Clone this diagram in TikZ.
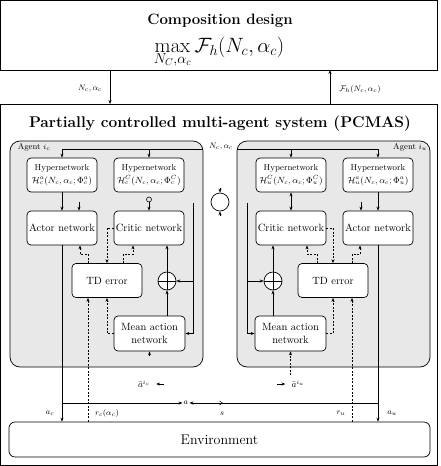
\documentclass[tikz,border=0pt]{standalone}
\usetikzlibrary{arrows.meta}
\begin{document}
\begin{tikzpicture}[x=1pt,y=-1pt,
  outer/.style={draw, line width=0.8pt, inner sep=0pt, outer sep=0pt},
  agentbox/.style={draw, fill=gray!18, rounded corners=10pt, line width=0.7pt},
  netbox/.style={draw, fill=white, rounded corners=4pt, minimum width=70pt, minimum height=34pt, align=center, inner sep=1pt, line width=0.7pt, font=\fontsize{10.5}{12.5}\selectfont},
  hyperbox/.style={netbox, font=\fontsize{8.6}{13}\selectfont},
  plus/.style={draw, circle, fill=white, minimum size=18pt, inner sep=0pt, line width=0.7pt, path picture={\draw[line width=0.6pt] (path picture bounding box.west) -- (path picture bounding box.east) (path picture bounding box.north) -- (path picture bounding box.south);}},
  arr/.style={-{Stealth[length=4pt,width=3pt]}, line width=0.6pt},
  darr/.style={arr, dash pattern=on 2pt off 1.5pt},
  lab/.style={font=\fontsize{8.5}{10}\selectfont, inner sep=1pt}
]
\useasboundingbox (0,0) rectangle (440,466);

% outer boxes
\node[outer, minimum width=437pt, minimum height=69.5pt, anchor=north west] (comp) at (0.5,0.5) {};
\node[font=\bfseries\fontsize{15}{18}\selectfont] (comptitle) at (220,21) {Composition design};
\node[font=\fontsize{20}{22}\selectfont] (compmath) at (219,52) {$\max\limits_{N_C,\alpha_c} \mathcal{F}_h(N_c,\alpha_c)$};
\node[outer, minimum width=437pt, minimum height=361pt, anchor=north west] (pc) at (0.5,104) {};
\node[font=\bfseries\fontsize{15.5}{18}\selectfont] (pctitle) at (220,124) {Partially controlled multi-agent system (PCMAS)};

\coordinate (dn) at (110,0);
\coordinate (up) at (330,0);
\draw[arr] (dn |- comp.south) -- (dn |- pc.north);
\draw[arr] (up |- pc.north) -- (up |- comp.south);
\node[lab] (lN) at (90,89) {$N_c,\alpha_c$};
\node[lab] (lF) at (360,89) {$\mathcal{F}_h(N_c,\alpha_c)$};

% agent boxes
\draw[agentbox] (10,141) rectangle (203,367);
\draw[agentbox] (237,141) rectangle (430,367);
\node[lab] (agc) at (34,147) {Agent $i_c$};
\node[lab] (agu) at (410,147) {Agent $i_u$};
\node[lab] (Nmid) at (221,147) {$N_c,\alpha_c$};

% left agent nodes
\node[hyperbox] (hac) at (62,175) {Hypernetwork\\$\mathcal{H}^a_c(N_c,\alpha_c;\Phi^a_c)$};
\node[hyperbox] (hcc) at (149,175) {Hypernetwork\\$\mathcal{H}^C_c(N_c,\alpha_c;\Phi^C_c)$};
\node[netbox] (actc) at (62,228) {Actor network};
\node[netbox] (critc) at (149,228) {Critic network};
\node[netbox] (tdc) at (107,280.5) {TD error};
\node[plus] (plusc) at (167,281) {};
\node[netbox, minimum width=71pt, minimum height=35pt] (meanc) at (149.5,333.5) {Mean action\\network};

% right agent nodes
\node[hyperbox] (hcu) at (291,175) {Hypernetwork\\$\mathcal{H}^C_u(N_c,\alpha_c;\Phi^C_u)$};
\node[hyperbox] (hau) at (378,175) {Hypernetwork\\$\mathcal{H}^a_u(N_c,\alpha_c;\Phi^a_u)$};
\node[netbox] (critu) at (291,228) {Critic network};
\node[netbox] (actu) at (378,228) {Actor network};
\node[netbox] (tdu) at (333,280.5) {TD error};
\node[plus] (plusu) at (273,281) {};
\node[netbox, minimum width=71pt, minimum height=35pt] (meanu) at (290.5,333.5) {Mean action\\network};

% centre circle
\node[draw, circle, minimum size=18pt, inner sep=0pt, line width=0.7pt] (cc) at (220,202) {};
\draw[arr] (cc.north) ++(0,-5) -- (cc.north);
\draw[arr] (cc.south) ++(0,5) -- (cc.south);

% environment
\node[draw, rounded corners=6pt, minimum width=421pt, minimum height=35pt, line width=0.7pt, font=\fontsize{14}{16}\selectfont] (env) at (219.5,439.5) {Environment};

% hyper inputs
\coordinate (inL) at (203,149);
\coordinate (inR) at (237,149);
\draw[arr] (inL) -| (hac.north);
\draw[arr] (hcc.north |- inL) -- (hcc.north);
\draw[arr] (inR) -| (hau.north);
\draw[arr] (hcu.north |- inR) -- (hcu.north);

% hyper -> actor / critic (left)
\draw[arr] (hac.south) -- (actc.north);
\coordinate (aL) at (79,202);
\draw[arr] (aL) -- (aL |- actc.north);
\draw[line width=0.6pt] (149,199.5) circle (2.5pt);
\draw[arr] (149,202) -- (critc.north);
% right
\draw[arr] (hau.south) -- (actu.north);
\coordinate (aR) at (361,202);
\draw[arr] (aR) -- (aR |- actu.north);
\draw[{Stealth[length=4pt,width=3pt]}-{Stealth[length=4pt,width=3pt]}, line width=0.6pt] (hcu.south) -- (critu.north);

% left internal
\draw[darr] ([xshift=-19pt]tdc.north) -- ++(0,-9) -| ([xshift=18pt]actc.south);
\draw[darr] ([xshift=16pt]tdc.north) -- ++(0,-9) -| ([xshift=-16pt]critc.south);
\draw[darr] (critc.west) -| (tdc.north);
\draw[arr] (plusc.north) -- (plusc.north |- critc.south);
\draw[arr] (plusc.south |- meanc.north) -- (plusc.south);
\coordinate (vL) at (193,203);
\draw[arr] (vL) |- (meanc.east);
\draw[arr] (vL |- plusc) -- (plusc.east);
\draw[darr] (meanc.west) -| (tdc.south);
\draw[arr] (meanc.south) ++(0,5) -- (meanc.south);

% right internal
\draw[darr] ([xshift=19pt]tdu.north) -- ++(0,-9) -| ([xshift=-18pt]actu.south);
\draw[darr] ([xshift=-16pt]tdu.north) -- ++(0,-9) -| ([xshift=16pt]critu.south);
\draw[darr] (critu.east) -| (tdu.north);
\draw[arr] (plusu.north) -- (plusu.north |- critu.south);
\draw[arr] (plusu.south |- meanu.north) -- (plusu.south);
\coordinate (vR) at (247,203);
\draw[arr] (vR) |- (meanu.west);
\draw[arr] (vR |- plusu) -- (plusu.west);
\draw[darr] (meanu.east) -| (tdu.south);

% environment links
\draw[arr] (actc.south) -- (actc.south |- env.north);
\draw[arr] (actu.south) -- (actu.south |- env.north);
\coordinate (rcx) at ([xshift=-19pt]tdc.south);
\coordinate (rux) at ([xshift=19pt]tdu.south);
\draw[darr] (rcx |- env.north) -- (rcx);
\draw[darr] (rux |- env.north) -- (rux);

\node[lab] (anode) at (186,403) {$a$};
\coordinate (ay) at (0,403);
\draw[arr] (actc.south |- ay) -- (anode.west);
\draw[arr] (actu.south |- ay) -- (anode.east);
\draw[-{Straight Barb[length=3pt,width=4pt]}, line width=0.5pt] (216,403) -- (223,403);

\node[lab] (lac) at (50,413) {$a_c$};
\node[lab] (lrc) at (107,413) {$r_c(\alpha_c)$};
\node[lab] (ls) at (222,414) {$s$};
\node[lab] (lru) at (341,413) {$r_u$};
\node[lab] (lau) at (392,413) {$a_u$};

% mean action outputs
\node[lab, font=\fontsize{9}{10}\selectfont] (abc) at (144,384) {$\bar{a}^{i_c}$};
\node[lab, font=\fontsize{9}{10}\selectfont] (abu) at (298,384) {$\bar{a}^{i_u}$};
\draw[arr] ([xshift=13pt]abc.east) -- ([xshift=5pt]abc.east);
\draw[arr] ([xshift=-13pt]abu.west) -- ([xshift=-5pt]abu.west);
\draw[darr] (meanu.south) ++(0,24) -- (meanu.south);
\end{tikzpicture}
\end{document}
